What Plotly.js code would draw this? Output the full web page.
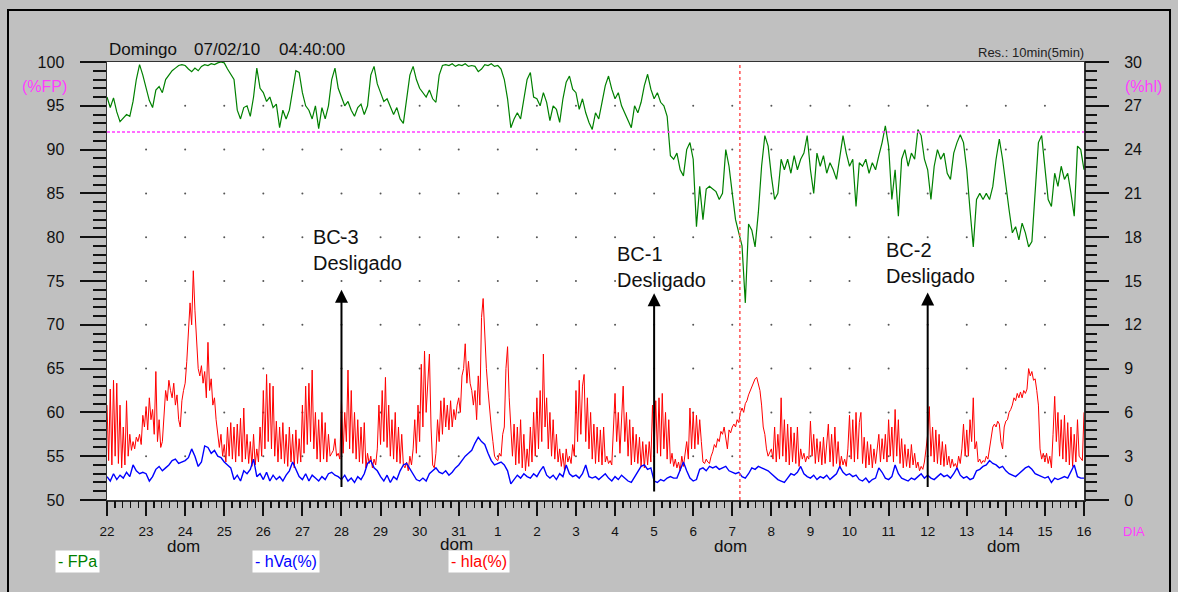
<!DOCTYPE html>
<html>
<head>
<meta charset="utf-8">
<script src="https://cdn.plot.ly/plotly-3.0.1.min.js"></script>
<style>
html,body{margin:0;padding:0;background:#c0c0c0;}
#chart{width:1178px;height:592px;}
</style>
</head>
<body>
<div id="chart"></div>
<script>
// ---------------- DATA ----------------
// Time grid: start 22/01/2010 00:00; FPa and hVa sampled every 2 h, hla every 1 h.
const startDate = Date.UTC(2010, 0, 22);
const HOUR = 3600000;

// FPa (%FP, left axis) - 12 samples per day
const fpa = [
  96.0,94.8,95.9,94.3,93.2,93.6,94.0,93.8,95.5,98.0,99.7,98.5,   // 22
  97.0,95.6,94.8,96.8,97.2,96.5,98.0,98.5,99.0,99.3,99.6,99.7,   // 23
  99.6,99.2,98.9,99.3,99.0,99.5,99.7,99.6,99.8,99.7,99.9,100.0,  // 24
  99.9,99.2,98.6,98.0,94.5,93.5,94.8,95.0,93.8,96.0,99.3,97.0,   // 25
  96.5,95.5,96.0,94.8,95.2,92.5,94.5,93.5,94.5,97.0,99.0,98.8,   // 26
  96.5,95.0,94.5,93.5,95.0,92.4,94.8,93.5,95.0,98.0,99.3,97.0,   // 27
  96.0,95.0,95.5,94.5,93.8,94.8,95.2,94.0,95.0,98.5,99.5,97.5,   // 28
  96.5,95.5,95.8,94.8,94.0,94.8,93.5,93.0,96.0,98.5,99.5,98.0,   // 29
  97.0,96.5,96.0,96.8,95.8,95.4,98.5,99.6,99.7,99.6,99.8,99.5,   // 30
  99.7,99.6,99.8,99.5,99.6,99.5,98.9,99.2,99.7,99.6,99.8,99.5,   // 31
  99.6,99.2,98.0,95.8,92.5,93.5,94.2,93.5,96.0,98.0,98.8,96.0,   // 1
  95.8,95.0,96.5,95.4,93.3,95.0,94.6,93.1,95.8,97.7,98.4,96.9,   // 2
  96.5,94.6,95.8,94.2,93.1,92.3,94.2,93.5,95.4,97.3,98.4,96.9,   // 3
  95.8,96.5,95.0,94.2,93.5,92.5,95.0,94.2,95.4,97.3,98.6,96.9,   // 4
  95.8,96.5,95.4,95.0,93.8,89.3,88.9,89.6,87.7,87.0,90.0,90.8,   // 5
  88.9,81.2,85.8,82.0,85.5,85.8,85.5,85.2,84.3,85.0,90.0,88.1,   // 6
  85.0,82.0,80.5,79.0,72.5,81.5,80.8,78.9,82.8,88.1,91.6,90.4,   // 7
  87.0,84.3,85.0,88.9,87.7,88.9,87.3,89.3,87.7,88.9,89.6,91.6,   // 8
  87.7,85.0,89.6,88.1,89.3,87.3,88.5,87.7,86.6,88.9,91.6,89.6,   // 9
  88.1,88.9,83.5,88.5,88.1,88.9,87.3,88.5,87.7,89.3,90.8,92.7,   // 10
  90.4,84.3,87.7,82.4,88.9,90.0,88.1,89.6,88.9,92.3,91.6,88.9,   // 11
  87.7,84.3,88.1,90.0,88.9,89.6,87.3,86.6,89.6,90.8,91.7,90.8,   // 12
  87.7,83.1,78.9,84.3,85.0,84.3,85.0,84.3,85.8,88.9,91.2,88.9,   // 13
  85.8,83.1,80.5,81.2,79.7,81.6,80.5,78.9,79.5,85.8,90.8,91.6,   // 14
  87.7,84.3,83.5,87.3,85.8,88.1,86.6,87.3,85.0,82.4,90.4,90.0,87.7 // 15 -> 16
];

// hVa(%) (right axis) - 12 samples per day
const hva = [
  1.6,1.3,1.8,1.4,1.7,1.5,1.9,1.6,2.4,2.0,1.8,1.9,
  1.8,1.3,1.6,2.1,2.3,2.0,2.2,2.4,2.7,2.8,2.5,2.6,
  2.7,2.9,3.5,3.0,2.3,2.6,3.7,3.6,3.2,3.4,3.0,2.9,
  2.6,2.4,2.2,1.4,1.7,1.3,2.0,1.8,2.1,2.8,1.6,1.8,
  1.4,1.9,1.3,1.7,1.4,1.6,1.3,1.7,2.0,2.6,2.1,1.6,
  1.4,1.8,1.3,1.7,1.5,1.3,1.6,1.4,1.8,1.9,1.7,1.6,
  1.4,1.7,1.3,1.5,1.2,1.6,1.4,1.8,2.5,2.7,2.2,2.0,
  1.6,1.3,1.7,1.2,1.6,1.4,2.0,2.4,2.5,2.1,1.7,1.4,
  1.3,1.5,1.3,1.8,2.0,2.2,1.9,1.8,2.0,1.7,1.9,2.2,
  2.4,2.7,3.0,3.2,3.4,3.9,4.3,4.0,3.8,3.2,2.7,2.4,
  2.5,2.6,2.4,2.0,1.1,1.4,1.7,1.5,1.8,1.6,1.5,1.8,
  1.6,2.0,2.3,1.7,1.5,1.7,1.4,1.8,1.6,2.4,1.8,1.6,
  1.7,1.5,1.8,2.4,1.6,1.5,1.6,1.4,1.6,1.8,1.5,1.3,
  1.6,1.4,1.7,1.5,1.3,1.2,1.6,2.0,2.3,2.4,2.1,2.2,
  1.3,1.2,1.4,1.3,1.5,1.6,1.5,1.5,2.0,2.6,2.0,1.5,
  1.3,1.4,2.1,2.2,2.0,2.3,2.2,2.3,2.1,2.2,2.3,2.0,
  1.9,1.8,1.9,1.6,1.5,1.8,2.2,2.1,2.3,2.2,2.1,2.0,
  1.8,1.6,1.4,1.3,1.2,1.5,1.8,1.7,1.9,2.3,1.8,1.6,
  1.5,1.7,1.4,1.6,1.5,1.7,1.4,1.6,1.8,2.3,1.9,1.7,
  1.8,1.6,1.7,1.4,1.3,1.5,1.2,1.4,1.5,2.2,1.9,1.5,
  1.4,1.6,2.4,1.8,1.5,1.4,1.3,1.5,1.4,1.6,1.8,1.5,
  1.7,1.5,1.4,1.6,1.8,1.6,1.7,1.5,1.8,2.2,1.7,1.5,
  1.6,1.4,1.5,2.0,2.1,2.3,2.4,2.7,2.5,2.4,2.2,2.3,
  2.0,1.8,1.7,1.6,1.8,2.0,2.2,2.3,2.1,1.8,1.7,1.6,
  1.5,1.6,1.2,1.5,1.4,1.5,1.6,1.5,2.0,2.4,1.6,1.5,1.5
];

// hla(%) (right axis) - 24 samples per day
const hlaJan22 = [6.5,2.7,7.6,2.4,8.2,3.0,8.0,2.5,6.5,2.2,5.0,2.4,6.8,3.0,4.5,3.4,4.0,3.5,4.3,4.0,4.5,3.8,5.8,5.0];
const hlaJan23 = [6.4,4.8,7.0,5.5,6.2,4.5,8.8,4.0,5.5,3.6,4.0,5.5,7.5,6.8,8.2,7.5,7.0,8.0,6.5,7.2,5.5,5.0,6.8,7.5];
const hlaJan24 = [8.0,9.5,11.5,13.5,12.0,15.7,13.0,10.5,9.0,8.5,9.2,8.0,8.8,7.0,10.8,7.5,8.3,6.5,7.0,5.5,4.5,3.6,4.5,3.0];
const hlaJan25 = [3.8,2.6,5.0,3.0,5.3,2.8,5.0,2.6,5.2,3.0,5.6,2.6,6.3,2.8,4.5,2.5,4.0,2.3,4.5,2.4,3.5,2.6,5.0,3.0];
const hlaJan26 = [7.5,3.5,8.6,4.0,8.0,3.5,7.8,3.0,5.4,2.6,5.0,2.8,5.3,2.5,4.5,2.3,5.0,2.6,4.5,2.2,4.8,2.5,4.2,2.6];
const hlaJan27 = [6.5,3.2,7.8,3.8,8.0,4.0,8.9,3.5,6.0,2.8,5.5,2.6,6.0,2.8,5.3,2.6,4.5,3.0,3.2,3.4,4.2,3.0,3.2,2.8];
const hlaJan28 = [6.8,3.2,6.0,4.0,8.9,3.5,7.5,3.2,6.0,2.8,5.5,2.6,5.0,2.5,5.3,2.2,3.2,2.5,3.0,2.2,2.8,2.4,3.5,6.5];
const hlaJan29 = [3.8,7.5,4.0,8.4,3.6,6.5,3.0,5.5,2.8,6.0,2.6,5.0,2.5,4.5,2.4,2.2,2.6,2.0,3.0,2.4,3.5,5.5,3.2,6.5];
const hlaJan30 = [4.0,9.3,5.0,10.2,6.0,8.5,10.0,5.0,2.4,2.2,3.2,5.5,4.0,6.8,4.5,7.0,5.0,6.5,4.8,6.8,5.0,6.2,5.5,6.5];
const hlaJan31 = [7.0,6.0,8.5,9.0,10.7,8.0,9.5,8.0,7.5,6.5,7.5,5.5,8.5,6.5,12.5,13.8,11.0,9.0,7.5,6.0,5.0,4.0,3.0,2.8];
const hlaFeb01 = [2.7,3.2,3.0,4.5,5.0,9.0,10.5,7.0,5.0,3.0,5.2,2.4,5.0,2.5,5.5,2.2,4.5,2.0,3.5,2.3,5.0,2.6,6.0,3.0];
const hlaFeb02 = [7.0,3.5,7.5,4.0,10.0,5.0,7.0,3.5,6.0,3.0,5.5,2.8,4.5,2.6,3.5,2.3,3.2,2.0,3.5,2.6,3.0,2.5,3.8,3.0];
const hlaFeb03 = [7.5,4.0,8.2,4.5,7.8,8.6,4.0,7.0,3.5,6.0,2.8,5.2,2.5,5.0,2.6,4.8,2.4,5.0,2.6,3.0,2.5,2.7,2.4,5.5];
const hlaFeb04 = [7.3,4.0,6.0,3.2,5.5,7.8,4.0,6.0,3.0,5.5,2.4,5.0,2.6,4.5,2.5,4.3,2.3,4.0,2.2,3.8,2.4,4.0,2.6,6.5];
const hlaFeb05 = [3.5,6.8,3.2,7.0,3.0,7.3,3.5,6.0,2.8,5.5,2.5,3.2,2.3,2.8,2.2,2.6,2.0,3.0,2.3,3.2,4.0,2.8,6.3,3.5];
const hlaFeb06 = [6.0,3.5,5.8,3.8,5.5,4.0,2.6,2.5,2.8,2.6,2.5,3.0,3.3,3.8,3.6,4.2,4.0,4.7,4.5,5.0,4.2,3.5,4.8,4.6];
const hlaFeb07 = [5.0,5.2,5.0,5.5,5.3,6.0,6.3,6.0,6.6,6.8,7.2,7.5,7.8,8.0,8.3,8.4,8.0,7.5,6.5,5.0,4.5,3.5,3.0,3.2];
const hlaFeb08 = [3.5,2.8,5.0,2.6,4.5,2.8,7.0,3.0,5.5,2.6,5.2,2.4,5.0,2.6,4.6,2.5,5.0,2.3,3.5,2.8,3.2,2.6,3.0,2.8];
const hlaFeb09 = [5.4,3.0,4.5,2.5,4.2,2.6,4.0,2.4,4.3,2.5,3.8,5.2,2.6,4.5,2.3,5.0,2.5,4.0,2.2,3.0,2.4,2.8,2.3,3.5];
const hlaFeb10 = [5.8,2.8,5.5,2.6,6.0,2.8,5.3,6.0,2.5,4.3,2.2,4.0,2.4,3.8,2.2,3.5,2.5,3.8,4.5,2.6,4.2,2.8,4.5,2.6];
const hlaFeb11 = [5.5,3.0,5.0,2.6,6.2,3.0,5.5,2.5,4.2,2.2,3.8,2.3,3.5,2.2,3.8,2.4,3.2,2.2,2.6,2.0,2.3,2.1,2.6,3.5];
const hlaFeb12 = [4.5,6.4,3.0,5.0,2.6,4.8,2.5,4.5,2.4,4.0,2.3,3.8,2.4,3.0,2.2,2.8,2.3,2.5,2.2,3.0,2.5,3.5,5.2,3.0];
const hlaFeb13 = [4.8,3.0,5.5,4.0,7.0,3.5,4.0,2.6,2.8,2.5,2.7,2.6,3.0,2.8,3.5,4.5,5.0,5.2,5.0,5.4,5.2,4.0,3.5,5.0];
const hlaFeb14 = [5.4,5.5,6.0,6.2,6.5,7.0,6.8,7.3,7.0,7.4,7.0,7.5,7.3,7.6,9.0,8.5,8.8,8.2,8.3,7.5,6.5,3.5,2.8,3.2];
const hlaFeb15 = [2.6,3.2,2.5,3.0,2.2,4.5,7.1,4.0,6.0,3.0,5.5,2.8,5.8,2.6,5.3,2.4,5.0,2.3,4.5,2.6,5.5,3.0,2.8,2.7,6.0];

const hla = [].concat(hlaJan22,hlaJan23,hlaJan24,hlaJan25,hlaJan26,hlaJan27,hlaJan28,hlaJan29,hlaJan30,hlaJan31,
  hlaFeb01,hlaFeb02,hlaFeb03,hlaFeb04,hlaFeb05,hlaFeb06,hlaFeb07,hlaFeb08,hlaFeb09,hlaFeb10,hlaFeb11,hlaFeb12,
  hlaFeb13,hlaFeb14,hlaFeb15);

// Axis ticks / grid
const xRange = ['2010-01-22','2010-02-16'];
const leftRange = [50, 100];
const rightRange = [0, 30];
const leftTicks = [55,60,65,70,75,80,85,90,95];
const gridDays = ['2010-01-23','2010-01-24','2010-01-25','2010-01-26','2010-01-27','2010-01-28','2010-01-29','2010-01-30','2010-01-31',
  '2010-02-01','2010-02-02','2010-02-03','2010-02-04','2010-02-05','2010-02-06','2010-02-07','2010-02-08','2010-02-09','2010-02-10',
  '2010-02-11','2010-02-12','2010-02-13','2010-02-14','2010-02-15'];
const sundays = ['2010-01-24','2010-01-31','2010-02-07','2010-02-14'];
const fpLimit = 92;
const cursorTime = '2010-02-07 04:40';
const events = [
  {label:'BC-3<br>Desligado', day:'2010-01-28', textX:'2010-01-27 05:00', textY:81.5, tip:74.0, base:51.3},
  {label:'BC-1<br>Desligado', day:'2010-02-05', textX:'2010-02-04 00:00', textY:79.6, tip:73.6, base:50.8},
  {label:'BC-2<br>Desligado', day:'2010-02-12', textX:'2010-02-10 21:10', textY:80.0, tip:73.7, base:51.3}
];

// ---------------- BUILD ----------------
const x2h = fpa.map((_, i) => startDate + i * 2 * HOUR);
const x1h = hla.map((_, i) => startDate + i * HOUR);

const gx = [], gy = [];
gridDays.forEach(d => leftTicks.forEach(v => { gx.push(d); gy.push(v); }));

const FONT = 'Liberation Sans, Arial, Helvetica, sans-serif';
const MAGENTA = '#ff3cff';
const tickCol = '#111';

const traces = [
  {x: gx, y: gy, type:'scatter', mode:'markers', marker:{size:2, color:'#555'}, hoverinfo:'skip', xaxis:'x', yaxis:'y'},
  {x: x2h, y: fpa, type:'scatter', mode:'lines', name:'FPa', line:{color:'#008000', width:1.2}, xaxis:'x', yaxis:'y'},
  {x: x1h, y: hla, type:'scatter', mode:'lines', name:'hla(%)', line:{color:'#ff0000', width:1}, xaxis:'x', yaxis:'y2'},
  {x: x2h, y: hva, type:'scatter', mode:'lines', name:'hVa(%)', line:{color:'#0000ff', width:1.4}, xaxis:'x', yaxis:'y2'},
  // invisible anchors so that the minor-tick axes are drawn
  {x: [startDate], y: [leftRange[0]], type:'scatter', mode:'markers', marker:{opacity:0}, hoverinfo:'skip', xaxis:'x2', yaxis:'y3'},
  {x: [startDate], y: [rightRange[0]], type:'scatter', mode:'markers', marker:{opacity:0}, hoverinfo:'skip', xaxis:'x', yaxis:'y4'}
];

const px = p => (p - 107) / 977;
const py = p => (500 - p) / 438;

const annotations = [
  {text:'Domingo', x:px(107), y:py(49), xref:'paper', yref:'paper', xanchor:'left', yanchor:'middle', showarrow:false, font:{size:17, color:'#111'}},
  {text:'07/02/10', x:px(192), y:py(49), xref:'paper', yref:'paper', xanchor:'left', yanchor:'middle', showarrow:false, font:{size:17, color:'#111'}},
  {text:'04:40:00', x:px(277), y:py(49), xref:'paper', yref:'paper', xanchor:'left', yanchor:'middle', showarrow:false, font:{size:17, color:'#111'}},
  {text:'Res.: 10min(5min)', x:px(1086), y:py(52), xref:'paper', yref:'paper', xanchor:'right', yanchor:'middle', showarrow:false, font:{size:13, color:'#222'}},
  {text:'(%FP)', x:px(69), y:py(86), xref:'paper', yref:'paper', xanchor:'right', yanchor:'middle', showarrow:false, font:{size:16, color:MAGENTA}},
  {text:'(%hl)', x:px(1123), y:py(86), xref:'paper', yref:'paper', xanchor:'left', yanchor:'middle', showarrow:false, font:{size:16, color:MAGENTA}},
  {text:'DIA', x:px(1121), y:py(531), xref:'paper', yref:'paper', xanchor:'left', yanchor:'middle', showarrow:false, font:{size:13, color:MAGENTA}},
  {text:'- FPa', x:px(55), y:py(561), xref:'paper', yref:'paper', xanchor:'left', yanchor:'middle', showarrow:false, bgcolor:'#ffffff', borderpad:2, font:{size:16, color:'#008000'}},
  {text:'- hVa(%)', x:px(252), y:py(561), xref:'paper', yref:'paper', xanchor:'left', yanchor:'middle', showarrow:false, bgcolor:'#ffffff', borderpad:2, font:{size:16, color:'#0000ff'}},
  {text:'- hla(%)', x:px(448), y:py(561), xref:'paper', yref:'paper', xanchor:'left', yanchor:'middle', showarrow:false, bgcolor:'#ffffff', borderpad:2, font:{size:16, color:'#ff0000'}}
];
sundays.forEach((d, i) => annotations.push({text:'dom', x:d, y:py(i === 1 ? 544 : 546), xref:'x', yref:'paper', xanchor:'center', yanchor:'middle', xshift:-2, showarrow:false, font:{size:17, color:'#111'}}));
events.forEach(e => {
  annotations.push({text:'', x:e.day, y:e.tip, ax:e.day, ay:e.base, xref:'x', yref:'y', axref:'x', ayref:'y', showarrow:true, arrowhead:2, arrowsize:1.3, arrowwidth:2, arrowcolor:'#000'});
  annotations.push({text:e.label, x:e.textX, y:e.textY, xref:'x', yref:'y', xanchor:'left', yanchor:'top', align:'left', showarrow:false, font:{size:20, color:'#111'}});
});

const shapes = [
  {type:'line', xref:'paper', yref:'y', x0:0, x1:1, y0:fpLimit, y1:fpLimit, line:{color:MAGENTA, width:1.5, dash:'3px,2px'}},
  {type:'line', xref:'x', yref:'paper', x0:cursorTime, x1:cursorTime, y0:0, y1:1, line:{color:'#ff5050', width:1.5, dash:'3px,3px'}},
  {type:'rect', xref:'paper', yref:'paper', x0:px(8), x1:px(1170), y0:py(10), y1:py(620), line:{color:'#000', width:2}, fillcolor:'rgba(0,0,0,0)', layer:'below'}
];

const minorAxis = {
  showgrid:false, zeroline:false, showline:false, showticklabels:false,
  ticks:'outside', tickcolor:tickCol, tickwidth:2, fixedrange:true
};

const layout = {
  width:1178, height:592,
  paper_bgcolor:'#c0c0c0', plot_bgcolor:'#ffffff',
  margin:{l:107, r:94, t:62, b:92, pad:0},
  showlegend:false,
  font:{family:FONT, color:'#111'},
  xaxis:{
    type:'date', range:xRange, tickmode:'linear', tick0:xRange[0], dtick:86400000, tickformat:'%-d',
    ticks:'outside', ticklen:14, tickwidth:2, tickcolor:tickCol,
    showgrid:false, zeroline:false, showline:true, linecolor:'#333', linewidth:1.5, mirror:true,
    tickfont:{size:13.5, color:'#111'}, ticklabelstandoff:4, fixedrange:true
  },
  xaxis2: Object.assign({}, minorAxis, {
    type:'date', overlaying:'x', side:'bottom', anchor:'y3', range:xRange, tickmode:'linear', tick0:xRange[0], dtick:17280000,
    ticklen:7, tickwidth:1.5
  }),
  yaxis:{
    range:leftRange, tickmode:'linear', tick0:50, dtick:5,
    ticks:'outside', ticklen:26, tickwidth:2, tickcolor:tickCol,
    showgrid:false, zeroline:false, showline:true, linecolor:'#333', linewidth:1.5, mirror:true,
    tickfont:{size:16, color:'#111'}, ticklabelstandoff:12, fixedrange:true
  },
  yaxis2:{
    overlaying:'y', side:'right', anchor:'x', range:rightRange, tickmode:'linear', tick0:0, dtick:3,
    ticks:'outside', ticklen:24, tickwidth:2, tickcolor:tickCol,
    showgrid:false, zeroline:false, showline:false,
    tickfont:{size:16, color:'#111'}, ticklabelstandoff:12, fixedrange:true
  },
  yaxis3: Object.assign({}, minorAxis, {
    overlaying:'y', side:'left', anchor:'x2', range:leftRange, tickmode:'linear', tick0:50, dtick:1, ticklen:13
  }),
  yaxis4: Object.assign({}, minorAxis, {
    overlaying:'y', side:'right', anchor:'x', range:rightRange, tickmode:'linear', tick0:0, dtick:0.6, ticklen:12
  }),
  annotations: annotations,
  shapes: shapes
};

Plotly.newPlot('chart', traces, layout, {displayModeBar:false, staticPlot:true});
</script>
</body>
</html>
